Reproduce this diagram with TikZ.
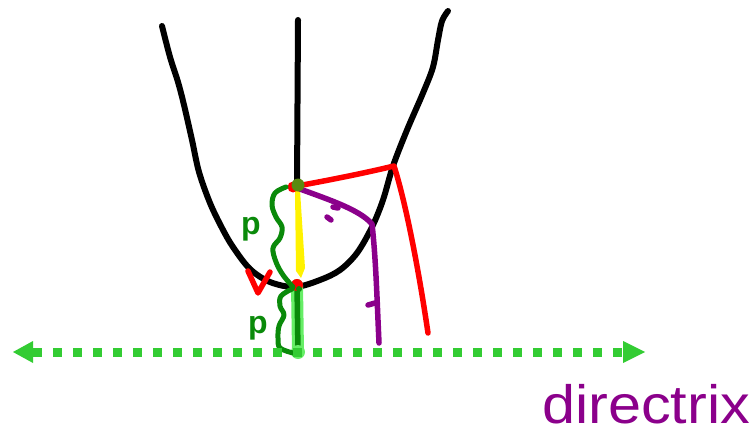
\documentclass[tikz,border=0pt]{standalone}
\usepackage{fontspec}
\setmainfont{Liberation Sans}
\definecolor{dgreen}{HTML}{0A8A0A}
\definecolor{lgreen}{HTML}{33CC33}
\definecolor{pgreen}{HTML}{66EE66}
\definecolor{purp}{HTML}{8B008B}
\definecolor{olivedot}{HTML}{5A8A10}
\begin{document}
\begin{tikzpicture}[x=1pt,y=-1pt,line cap=round,line join=round,
  curvepen/.style={black,line width=6pt},
  redpen/.style={red,line width=5.5pt},
  purppen/.style={purp,line width=5.5pt},
  bracepen/.style={dgreen,line width=5pt},
  plabel/.style={dgreen,font=\bfseries\fontsize{32}{32}\selectfont,inner sep=0pt,anchor=base},
  tipstyle/.style={fill=lgreen}]
\useasboundingbox (0,0) rectangle (755,436);
% key points
\coordinate (F) at (297,186);
\coordinate (V) at (297,285);
\coordinate (D) at (298,352);
\coordinate (P1) at (394,166);
\coordinate (Q1) at (428,333);
\coordinate (P2) at (372,224);
\coordinate (Q2) at (379,343);
\coordinate (Ltip) at (13,352);
\coordinate (Lbase) at (33,352);
\coordinate (Rtip) at (645,352);
\coordinate (Rbase) at (623,352);
\coordinate (AxTop) at (298,20);
% parabola
\draw[curvepen] plot[smooth,tension=0.55] coordinates {(162,26)(170,57)(178,82)(184,105)(192,140)(199,172)(210,203)(222,228)(233,247)(250,269)(270,282)(295,287)(320,280)(340,270)(357,253)(372,227)(383,200)(393,166)(407,130)(423,93)(433,67)(438,40)(442,21)(448,11)};
% axis
\draw[curvepen] (AxTop) -- (F);
% light green band and dark green segment
\draw[pgreen,line width=12pt] (V) -- (D);
\draw[dgreen,line width=5.5pt] (V) -- (D);
\fill[pgreen] (D) circle (7pt);
% yellow segment
\fill[yellow] (295,190) -- (300,190) -- (305,268) -- (301,278) -- (296,271) -- cycle;
% red lines
\draw[redpen] (F) .. controls (330,180) and (365,173) .. (P1)
  .. controls (405,200) and (418,265) .. (Q1);
% purple lines
\draw[purppen] (300,189) .. controls (330,200) and (360,210) .. (P2)
  .. controls (376,260) and (377,300) .. (Q2);
\draw[purppen] (333,207) -- (338,208);
\draw[purppen] (327,217) -- (331,220);
\draw[purppen] (368,305) -- (375,303);
% focus and vertex dots
\fill[red] (293,187) circle (5.5pt);
\fill[olivedot] (298,185) circle (6.5pt);
\fill[red] (297,285) circle (6pt);
\fill[dgreen] (299,289) circle (3pt);
% red v mark
\draw[redpen] (248,271) -- (258,293) -- (270,272);
% braces
\draw[bracepen] plot[smooth,tension=0.6] coordinates {(286,187)(275,193)(272,205)(276,217)(282,227)(280,238)(273,248)(276,262)(283,275)(293,287)};
\draw[bracepen] plot[smooth,tension=0.6] coordinates {(292,289)(281,296)(280,306)(284,315)(279,326)(278,338)(280,348)(293,353)};
\node[plabel] (p1) at (251,234) {p};
\node[plabel] (p2) at (258,333) {p};
% directrix
\draw[lgreen,line width=9pt,line cap=butt,dash pattern=on 9pt off 11pt] (Lbase) -- (Rbase);
\fill[tipstyle] (Ltip) -- (Lbase |- 0,341) -- (Lbase |- 0,363) -- cycle;
\fill[tipstyle] (Rtip) -- (Rbase |- 0,341) -- (Rbase |- 0,363) -- cycle;
\node[purp,font=\fontsize{54}{54}\selectfont,anchor=base west,inner sep=0pt] (dlab) at (542,423) {\scalebox{1.1}[1]{directrix}};
\end{tikzpicture}
\end{document}
